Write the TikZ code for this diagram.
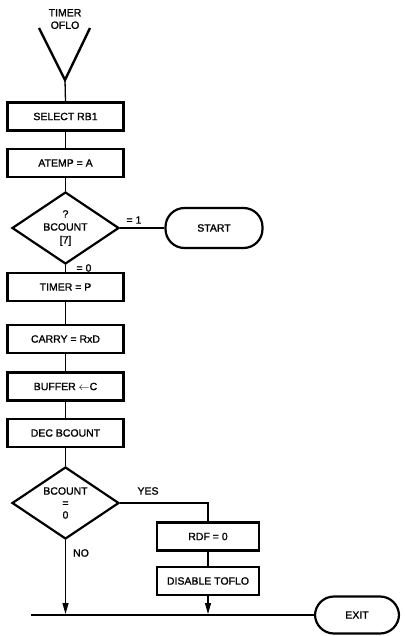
\documentclass[tikz,border=0pt]{standalone}
\usepackage{fontspec}
\setmainfont{Liberation Sans}[BoldFont=Liberation Sans,BoldFeatures={FakeBold=1.3}]
\usetikzlibrary{shapes.geometric,arrows.meta}
\begin{document}
\begin{tikzpicture}[x=1pt,y=-1pt,
  every node/.style={font=\fontsize{10.5}{13}\selectfont\bfseries},
  procbox/.style={draw,line width=2.2pt,minimum width=116pt,minimum height=28pt,inner sep=0pt},
  sidebox/.style={draw,line width=2.2pt,minimum width=102pt,minimum height=28pt,inner sep=0pt},
  decision/.style={draw,shape=diamond,line width=2.2pt,minimum width=107pt,minimum height=72pt,inner sep=0pt,aspect=1.5,align=center},
  term/.style={draw,line width=2.2pt,rounded corners=19pt,inner sep=0pt},
  conn/.style={line width=1.3pt},
  arr/.style={line width=1.3pt,-{Triangle[length=11pt,width=6pt]}},
  lbl/.style={inner sep=0pt}]
\useasboundingbox (0,0) rectangle (404,636);

% title and V entry symbol
\node[lbl,align=center,font=\fontsize{10.5}{12.5}\selectfont\bfseries] (title) at (65,19) {TIMER\\OFLO};
\coordinate (vL) at (39,28);
\coordinate (vR) at (90,28);
\coordinate (vB) at (65,80);
\draw[line width=2.4pt] (vL) -- (vB) -- (vR);

% main column
\node[procbox] (sel) at (65.5,116.5) {SELECT RB1};
\node[procbox] (atemp) at (65.5,163) {ATEMP = A};
\node[decision] (d1) at (65.5,228) {?\\BCOUNT\\{[7]}};
\node[term,minimum width=97pt,minimum height=40pt] (start) at (214,228) {START};
\node[procbox] (timer) at (65.5,287) {TIMER = P};
\node[procbox] (carry) at (65.5,339) {CARRY = RxD};
\node[procbox] (buffer) at (65.5,386.5) {BUFFER $\leftarrow$C};
\node[procbox] (dec) at (65.5,433) {DEC BCOUNT};
\node[decision,font=\fontsize{10.5}{12}\selectfont\bfseries] (d2) at (65.5,503) {BCOUNT\\=\\0};

% right branch
\node[sidebox] (rdf) at (208,536.5) {RDF = 0};
\node[sidebox] (dis) at (208,581) {DISABLE TOFLO};
\node[term,minimum width=84pt,minimum height=37pt] (exit) at (357,615) {EXIT};

% labels
\node[lbl] (l1) at (134,220) {= 1};
\node[lbl] (l0) at (84,268) {= 0};
\node[lbl] (lyes) at (148,491) {YES};
\node[lbl] (lno) at (81,553) {NO};

% connectors
\draw[conn] (vB) -- (sel.north);
\draw[conn] (sel) -- (atemp);
\draw[conn] (atemp) -- (d1.north);
\draw[conn] (d1.east) -- (start.west);
\draw[conn] (d1.south) -- (timer.north);
\draw[conn] (timer) -- (carry);
\draw[conn] (carry) -- (buffer);
\draw[conn] (buffer) -- (dec);
\draw[conn] (dec) -- (d2.north);
\draw[conn] (d2.east) -| (rdf.north);
\draw[conn] (rdf) -- (dis);

\coordinate (busL) at (31,615);
\coordinate (tipA) at (65.5,614);
\coordinate (tipB) at (208,614);
\draw[conn] (busL) -- (exit.west);
\draw[arr] (d2.south) -- (tipA);
\draw[arr] (dis.south) -- (tipB);
\end{tikzpicture}
\end{document}
